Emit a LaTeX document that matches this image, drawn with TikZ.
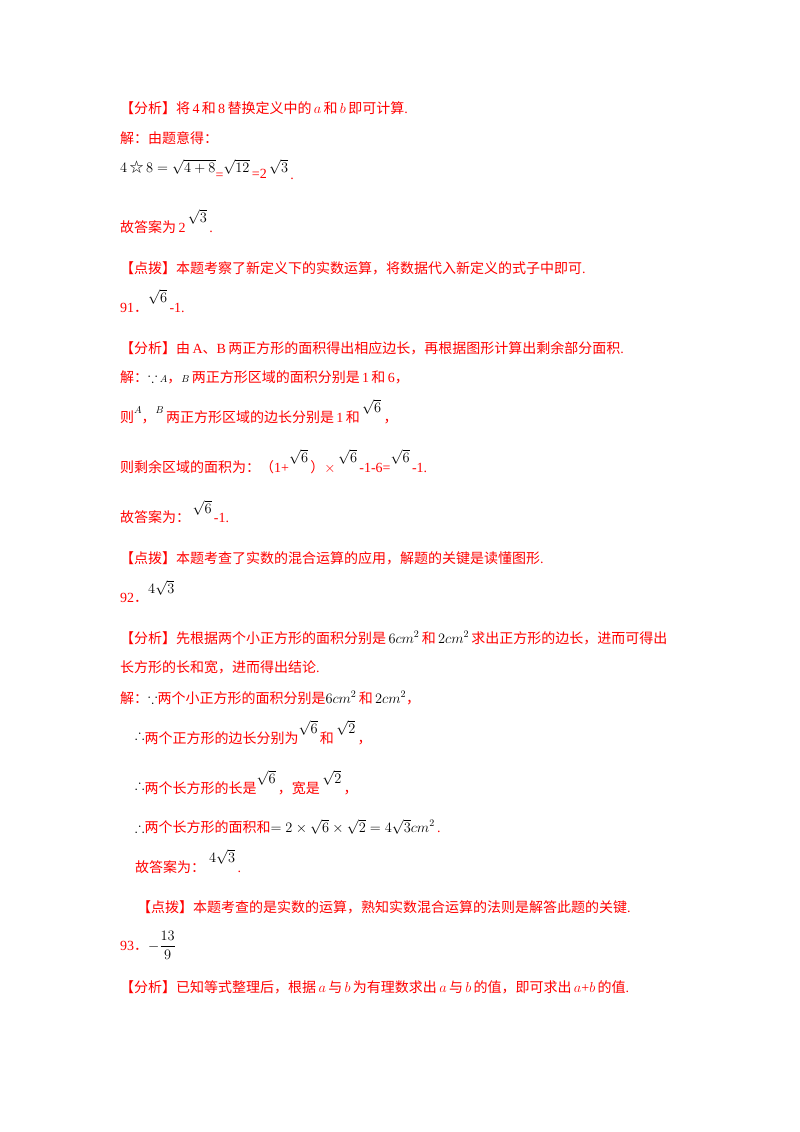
\documentclass[tikz,border=0pt]{standalone}
\usepackage{amsmath,amssymb}
\usepackage{fontspec}
\setmainfont{Liberation Serif}
\newfontfamily\cjk{Noto Sans CJK SC}
\newcommand{\zh}[1]{{\cjk #1}}
\newcommand{\bk}[1]{\textcolor{black}{#1}}
\newcommand{\up}[2]{\raisebox{#1}{#2}}
\definecolor{rd}{HTML}{FF0000}
\begin{document}
\begin{tikzpicture}[x=1pt,y=-1pt,
  t/.style={anchor=base west,inner sep=0pt,text=rd,font=\fontsize{14}{14}\selectfont}]
\useasboundingbox (0,0) rectangle (800,1132);
\node[t] (l1) at (120,113) {\zh{【分析】将}\,4\,\zh{和}\,8\,\zh{替换定义中的}\,$a$\,\zh{和}\,$b$\,\zh{即可计算}.};
\node[t] (l2) at (120,143) {\zh{解：由题意得：}};
\node[t] (l3) at (120,172) {\bk{$4\,\text{\zh{☆}}\,8=\sqrt{4+8}$}\up{-7pt}{=}\bk{$\sqrt{12}$}\,\up{-6pt}{=2}\,\bk{$\sqrt{3}$}\,\up{-7pt}{.}};
\node[t] (l4) at (120,232) {\zh{故答案为}\,2\,\up{10pt}{\bk{$\sqrt{3}$}}\,.};
\node[t] (l5) at (120,273) {\zh{【点拨】本题考察了新定义下的实数运算，将数据代入新定义的式子中即可}.};
\node[t] (l6) at (120,312) {91\zh{．}\up{10pt}{\bk{$\sqrt{6}$}}\,-1.};
\node[t] (l7) at (120,353) {\zh{【分析】由}\,A\zh{、}B\,\zh{两正方形的面积得出相应边长，再根据图形计算出剩余部分面积}.};
\node[t] (l8) at (120,382) {\zh{解：}\bk{$\because$}\,\bk{$\scriptstyle A$}\zh{，}\bk{$\scriptstyle B$}\,\zh{两正方形区域的面积分别是}\,1\,\zh{和}\,6\zh{，}};
\node[t] (l9) at (120,422) {\zh{则}\up{9pt}{\bk{$\scriptstyle A$}}\zh{，}\up{9pt}{\bk{$\scriptstyle B$}}\,\zh{两正方形区域的边长分别是}\,1\,\zh{和}\,\up{10pt}{\bk{$\sqrt{6}$}}\,\zh{，}};
\node[t] (l10) at (120,472) {\zh{则剩余区域的面积为：（}1+\up{10pt}{\bk{$\sqrt{6}$}}\,\zh{）}$\times$\,\up{10pt}{\bk{$\sqrt{6}$}}\,-1-6=\up{10pt}{\bk{$\sqrt{6}$}}\,-1.};
\node[t] (l11) at (120,522) {\zh{故答案为：}\,\up{9pt}{\bk{$\sqrt{6}$}}\,-1.};
\node[t] (l12) at (120,563) {\zh{【点拨】本题考查了实数的混合运算的应用，解题的关键是读懂图形}.};
\node[t] (l13) at (120,602) {92\zh{．}\up{9pt}{\bk{$4\sqrt{3}$}}};
\node[t] (l14) at (120,643) {\zh{【分析】先根据两个小正方形的面积分别是}\,\bk{$6cm^2$}\,\zh{和}\,\bk{$2cm^2$}\,\zh{求出正方形的边长，进而可得出}};
\node[t] (l15) at (120,672) {\zh{长方形的长和宽，进而得出结论}.};
\node[t] (l16) at (120,703) {\zh{解：}\bk{$\because$}\zh{两个小正方形的面积分别是}\bk{$6cm^2$}\,\zh{和}\,\bk{$2cm^2$}\zh{，}};
\node[t] (l17) at (135,743) {\up{4pt}{\bk{$\therefore$}}\zh{两个正方形的边长分别为}\up{10pt}{\bk{$\sqrt{6}$}}\,\zh{和}\,\up{10pt}{\bk{$\sqrt{2}$}}\,\zh{，}};
\node[t] (l18) at (135,793) {\up{4pt}{\bk{$\therefore$}}\zh{两个长方形的长是}\up{10pt}{\bk{$\sqrt{6}$}}\,\zh{，宽是}\,\up{10pt}{\bk{$\sqrt{2}$}}\,\zh{，}};
\node[t] (l19) at (135,832) {\bk{$\therefore$}\zh{两个长方形的面积和}\bk{$=2\times\sqrt{6}\times\sqrt{2}=4\sqrt{3}cm^2$}\,.};
\node[t] (l20) at (135,872) {\zh{故答案为：}\;\up{10pt}{\bk{$4\sqrt{3}$}}\,.};
\node[t] (l21) at (137,912) {\zh{【点拨】本题考查的是实数的运算，熟知实数混合运算的法则是解答此题的关键}.};
\node[t] (l22) at (120,950) {93\zh{．}\bk{$-\dfrac{13}{9}$}};
\node[t] (l23) at (120,992) {\zh{【分析】已知等式整理后，根据}\,$a$\,\zh{与}\,$b$\,\zh{为有理数求出}\,$a$\,\zh{与}\,$b$\,\zh{的值，即可求出}\,$a$+$b$\,\zh{的值}.};
\end{tikzpicture}
\end{document}
